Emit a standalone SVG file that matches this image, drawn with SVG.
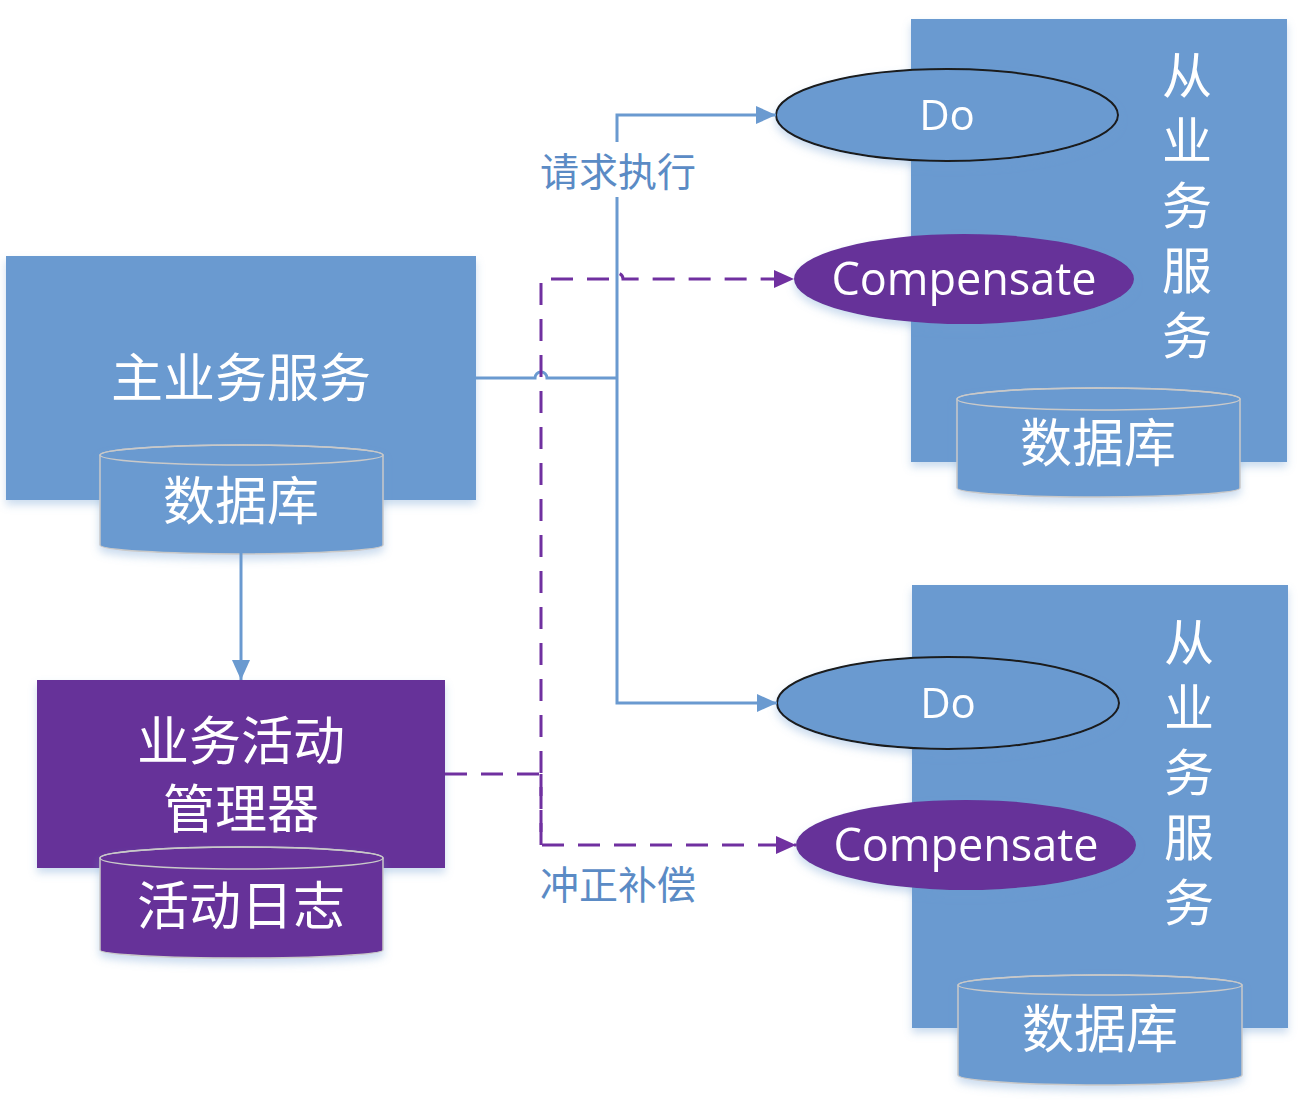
<svg xmlns="http://www.w3.org/2000/svg" width="1308" height="1100" viewBox="0 0 1308 1100">
<style>
.blue{fill:#6a9ad0}
.purple{fill:#663399}
.cyl{stroke:#c9c9c9;stroke-width:1.5}
.zh{font-family:"Noto Sans CJK SC","Noto Sans",sans-serif;fill:#fff;text-anchor:middle;dominant-baseline:central}
.big{font-size:52px}
.vert{font-family:"Noto Sans CJK SC","Noto Sans",sans-serif;fill:#fff;font-size:50px;writing-mode:vertical-rl;letter-spacing:15px}
.en{font-family:"Open Sans","Noto Sans",sans-serif;fill:#fff;text-anchor:middle;dominant-baseline:central}
.lbl{font-family:"Noto Sans CJK SC","Noto Sans",sans-serif;fill:#5b8bc5;font-size:39px;text-anchor:middle;dominant-baseline:central}
.bl{fill:none;stroke:#6a9ad0;stroke-width:3}
.dash{fill:none;stroke:#7030a0;stroke-width:3;stroke-dasharray:22 14}
</style>
<defs>
<filter id="sh" x="-10%" y="-10%" width="120%" height="130%">
<feDropShadow dx="0" dy="5" stdDeviation="4" flood-color="#6a9ad0" flood-opacity="0.35"/>
</filter>
<marker id="ab" markerUnits="userSpaceOnUse" markerWidth="20" markerHeight="18" refX="20" refY="9" orient="auto">
<path d="M0,0 L20,9 L0,18 Z" fill="#6a9ad0"/>
</marker>
<marker id="ap" markerUnits="userSpaceOnUse" markerWidth="20" markerHeight="18" refX="20" refY="9" orient="auto">
<path d="M0,0 L20,9 L0,18 Z" fill="#7030a0"/>
</marker>
</defs>

<g id="main-service" filter="url(#sh)">
<rect class="blue" x="6" y="256" width="470" height="244"/>
<text class="zh big" x="241" y="374">主业务服务</text>
</g>
<g id="main-db" filter="url(#sh)">
<path class="blue cyl" d="M100,455 L100,545 A141.5,9 0 0 0 383,545 L383,455 A141.5,10 0 0 0 100,455 Z"/>
<ellipse cx="241.5" cy="455" rx="141.5" ry="10" fill="none" class="cyl"/>
<text class="zh big" x="241" y="497">数据库</text>
</g>

<g id="activity-manager" filter="url(#sh)">
<rect class="purple" x="37" y="680" width="408" height="188"/>
<text class="zh big" x="241" y="737">业务活动</text>
<text class="zh big" x="241" y="805">管理器</text>
</g>
<g id="activity-log" filter="url(#sh)">
<path class="purple cyl" d="M100,858 L100,950 A141.5,8 0 0 0 383,950 L383,858 A141.5,11 0 0 0 100,858 Z"/>
<ellipse cx="241.5" cy="858" rx="141.5" ry="11" fill="none" class="cyl"/>
<text class="zh big" x="241" y="902">活动日志</text>
</g>

<g id="sub-service-1" filter="url(#sh)">
<rect class="blue" x="911" y="19" width="376" height="443"/>
<text class="vert" x="1187" y="50">从业务服务</text>
</g>
<g id="do-1" filter="url(#sh)">
<ellipse class="blue" cx="947" cy="115" rx="171" ry="46" stroke="#1a1a1a" stroke-width="2"/>
<text class="en" x="947" y="113" font-size="42">Do</text>
</g>
<g id="compensate-1" filter="url(#sh)">
<ellipse class="purple" cx="964" cy="279" rx="170" ry="45"/>
<text class="en" x="964" y="277" font-size="45">Compensate</text>
</g>
<g id="sub-db-1" filter="url(#sh)">
<path class="blue cyl" d="M957,399 L957,488 A141.5,9 0 0 0 1240,488 L1240,399 A141.5,11 0 0 0 957,399 Z"/>
<ellipse cx="1098.5" cy="399" rx="141.5" ry="11" fill="none" class="cyl"/>
<text class="zh big" x="1098" y="439">数据库</text>
</g>

<g id="sub-service-2" filter="url(#sh)">
<rect class="blue" x="912" y="585" width="376" height="443"/>
<text class="vert" x="1189" y="617">从业务服务</text>
</g>
<g id="do-2" filter="url(#sh)">
<ellipse class="blue" cx="948" cy="703" rx="171" ry="46" stroke="#1a1a1a" stroke-width="2"/>
<text class="en" x="948" y="701" font-size="42">Do</text>
</g>
<g id="compensate-2" filter="url(#sh)">
<ellipse class="purple" cx="966" cy="845" rx="170" ry="45"/>
<text class="en" x="966" y="843" font-size="45">Compensate</text>
</g>
<g id="sub-db-2" filter="url(#sh)">
<path class="blue cyl" d="M958,985 L958,1075 A142,10 0 0 0 1242,1075 L1242,985 A142,10 0 0 0 958,985 Z"/>
<ellipse cx="1100" cy="985" rx="142" ry="10" fill="none" class="cyl"/>
<text class="zh big" x="1100" y="1025">数据库</text>
</g>

<g id="connectors">
<path class="bl" d="M241,553 L241,680" marker-end="url(#ab)"/>
<path class="bl" d="M476,378 L535,378 A6,6 0 0 1 547,378 L617,378"/>
<path class="bl" d="M617,142 L617,115 L776,115" marker-end="url(#ab)"/>
<path class="bl" d="M617,197 L617,703 L777,703" marker-end="url(#ab)"/>
<path class="dash" d="M445,774 L541,774"/>
<path class="dash" d="M541,845 L541,279 L611,279 A6,6 0 0 1 623,279 L794,279" marker-end="url(#ap)"/>
<path class="dash" d="M541,774 L541,845 L796,845" marker-end="url(#ap)"/>
<text class="lbl" x="618" y="169">请求执行</text>
<text class="lbl" x="618" y="882">冲正补偿</text>
</g>
</svg>
